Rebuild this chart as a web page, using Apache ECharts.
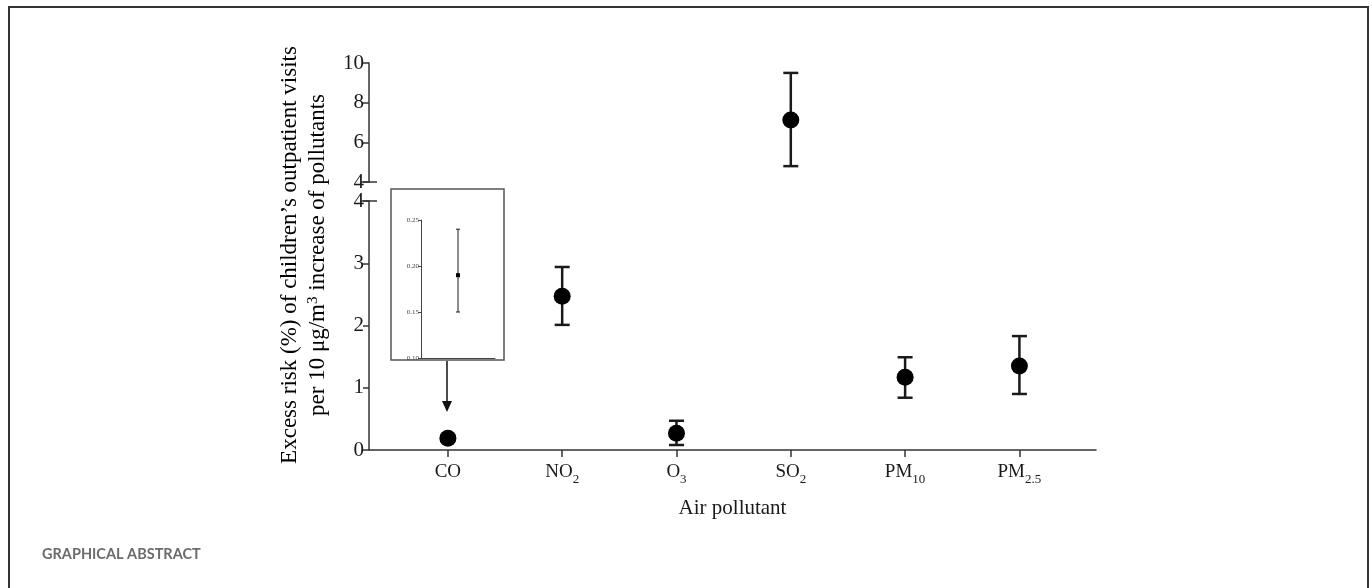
<!DOCTYPE html>
<html>
<head>
<meta charset="utf-8">
<script src="https://cdn.jsdelivr.net/npm/echarts@6/dist/echarts.min.js"></script>
<style>
  html, body { margin: 0; padding: 0; background: #fff; }
  #chart { width: 1372px; height: 588px; }
</style>
</head>
<body>
<div id="chart"></div>
<script>
// pollutant order along the x axis (value 1..6)
const pollutants = ['CO', 'NO2', 'O3', 'SO2', 'PM10', 'PM2.5']
const excessRisk = [0.19, 2.47, 0.27, 7.13, 1.17, 1.35]
const lowerCI = [0.15, 2.01, 0.08, 4.80, 0.84, 0.90]
const upperCI = [0.24, 2.94, 0.47, 9.50, 1.49, 1.83]

const lowerTicks = [0, 1, 2, 3, 4]
const upperTicks = [4, 6, 8, 10]
const insetTicks = [0.10, 0.15, 0.20, 0.25]
const breakAt = 4

const serif = '"Liberation Serif", "Times New Roman", serif'
const ink = '#1a1a1a'
const axisColor = '#333'

// split points into the upper (>= break) and lower panels
const positions = pollutants.map((p, i) => i + 1)
const pointsLow = positions.filter((x, i) => excessRisk[i] < breakAt).map((x) => [x, excessRisk[x - 1]])
const pointsHigh = positions.filter((x, i) => excessRisk[i] >= breakAt).map((x) => [x, excessRisk[x - 1]])
const barsLow = positions.filter((x, i) => excessRisk[i] < breakAt).map((x) => [x, lowerCI[x - 1], upperCI[x - 1]])
const barsHigh = positions.filter((x, i) => excessRisk[i] >= breakAt).map((x) => [x, lowerCI[x - 1], upperCI[x - 1]])

const xMin = 0.31
const xMax = 6.67

// "NO2" -> NO + subscript 2
const chemLabel = (name) => {
  const m = name.match(/^([A-Z]+)(.*)$/)
  return m[2] ? `{main|${m[1]}}{sub|${m[2]}}` : `{main|${m[1]}}`
}

const errorBar = (capW, lw) => (params, api) => {
  const x = api.value(0)
  const lo = api.coord([x, api.value(1)])
  const hi = api.coord([x, api.value(2)])
  const style = { stroke: ink, lineWidth: lw }
  return {
    type: 'group',
    children: [
      { type: 'line', shape: { x1: lo[0], y1: lo[1], x2: hi[0], y2: hi[1] }, style },
      { type: 'line', shape: { x1: hi[0] - capW / 2, y1: hi[1], x2: hi[0] + capW / 2, y2: hi[1] }, style },
      { type: 'line', shape: { x1: lo[0] - capW / 2, y1: lo[1], x2: lo[0] + capW / 2, y2: lo[1] }, style },
    ],
  }
}

// short cross mark where the y axis is broken
const breakMark = (params, api) => {
  const p = api.coord([api.value(0), api.value(1)])
  return {
    type: 'line',
    shape: { x1: p[0] - 8, y1: p[1], x2: p[0] + 8, y2: p[1] },
    style: { stroke: axisColor, lineWidth: 1.5 },
  }
}

const subRich = {
  main: { fontFamily: serif, fontSize: 19, color: ink, lineHeight: 20, verticalAlign: 'top' },
  sub: { fontFamily: serif, fontSize: 13, color: ink, lineHeight: 13, padding: [10, 0, 0, 0], verticalAlign: 'top' },
}

const chart = echarts.init(document.getElementById('chart'), null, { renderer: 'canvas' })

chart.setOption({
  backgroundColor: '#fff',
  animation: false,
  grid: [
    { left: 369, right: 276, top: 63, height: 119 },
    { left: 369, right: 276, top: 201, height: 249 },
    { left: 421, top: 220, width: 74, height: 138 },
  ],
  xAxis: [
    { gridIndex: 0, type: 'value', min: xMin, max: xMax, show: false },
    {
      gridIndex: 1, type: 'value', min: xMin, max: xMax,
      axisLine: { lineStyle: { color: axisColor, width: 1.5 } },
      axisTick: { show: true, customValues: positions, length: 7, lineStyle: { color: axisColor, width: 1.5 } },
      splitLine: { show: false },
      axisLabel: {
        customValues: positions,
        margin: 13,
        formatter: (v) => chemLabel(pollutants[Math.round(v) - 1]),
        rich: subRich,
      },
      name: 'Air pollutant',
      nameLocation: 'middle',
      nameGap: 48,
      nameMoveOverlap: false,
      nameTextStyle: { fontFamily: serif, fontSize: 21, color: ink },
    },
    {
      gridIndex: 2, type: 'value', min: 0, max: 2,
      axisLine: { lineStyle: { color: '#444', width: 1 } },
      axisTick: { show: false }, axisLabel: { show: false }, splitLine: { show: false },
    },
  ],
  yAxis: [
    {
      gridIndex: 0, type: 'value', min: 4, max: 10, interval: 2,
      axisLine: { show: true, lineStyle: { color: axisColor, width: 1.5 } },
      axisTick: { show: true, length: 6, lineStyle: { color: axisColor, width: 1.5 } },
      axisLabel: { fontFamily: serif, fontSize: 21, color: ink, margin: 5, customValues: upperTicks },
      splitLine: { show: false },
    },
    {
      gridIndex: 1, type: 'value', min: 0, max: 4, interval: 1,
      axisLine: { show: true, lineStyle: { color: axisColor, width: 1.5 } },
      axisTick: { show: true, length: 6, lineStyle: { color: axisColor, width: 1.5 } },
      axisLabel: { fontFamily: serif, fontSize: 21, color: ink, margin: 5, customValues: lowerTicks },
      splitLine: { show: false },
    },
    {
      gridIndex: 2, type: 'value', min: 0.10, max: 0.25, interval: 0.05,
      axisLine: { show: true, lineStyle: { color: '#444', width: 1 } },
      axisTick: { show: true, length: 3, lineStyle: { color: '#444', width: 1 } },
      axisLabel: {
        fontFamily: serif, fontSize: 7, color: '#444', margin: 2,
        customValues: insetTicks, formatter: (v) => v.toFixed(2),
      },
      splitLine: { show: false },
    },
  ],
  series: [
    { type: 'custom', xAxisIndex: 0, yAxisIndex: 0, renderItem: errorBar(15, 2.5), data: barsHigh, z: 3 },
    { type: 'scatter', xAxisIndex: 0, yAxisIndex: 0, symbolSize: 17, itemStyle: { color: '#000', opacity: 1 }, data: pointsHigh, z: 4 },
    { type: 'custom', xAxisIndex: 1, yAxisIndex: 1, renderItem: errorBar(15, 2.5), data: barsLow, z: 3 },
    { type: 'scatter', xAxisIndex: 1, yAxisIndex: 1, symbolSize: 17, itemStyle: { color: '#000', opacity: 1 }, data: pointsLow, z: 4 },
    { type: 'custom', xAxisIndex: 0, yAxisIndex: 0, renderItem: breakMark, data: [[xMin, breakAt]], silent: true },
    { type: 'custom', xAxisIndex: 1, yAxisIndex: 1, renderItem: breakMark, data: [[xMin, breakAt]], silent: true },
    // inset: zoom on the CO estimate
    { type: 'custom', xAxisIndex: 2, yAxisIndex: 2, renderItem: errorBar(4, 1), data: [[1, lowerCI[0], upperCI[0]]] },
    { type: 'scatter', xAxisIndex: 2, yAxisIndex: 2, symbol: 'rect', symbolSize: 4, itemStyle: { color: '#000', opacity: 1 }, data: [[1, excessRisk[0]]], z: 4 },
  ],
  graphic: [
    // page frame
    { type: 'rect', shape: { x: 9, y: 7, width: 1359, height: 640 }, style: { fill: 'none', stroke: '#333', lineWidth: 2 }, silent: true },
    // inset frame
    { type: 'rect', shape: { x: 391, y: 189, width: 113, height: 171 }, style: { fill: 'none', stroke: '#555', lineWidth: 1.5 }, silent: true },
    // arrow from inset to CO
    { type: 'line', shape: { x1: 447, y1: 361, x2: 447, y2: 404 }, style: { stroke: '#111', lineWidth: 1.5 }, silent: true },
    { type: 'polygon', shape: { points: [[442, 401], [452, 401], [447, 412]] }, style: { fill: '#111' }, silent: true },
    {
      type: 'text', x: 306, y: 255, rotation: Math.PI / 2, silent: true,
      style: {
        text: '{t|Excess risk (%) of children’s outpatient visits}\n{t|per 10 μg/m}{sup|3}{t| increase of pollutants}',
        align: 'center', verticalAlign: 'middle',
        rich: {
          t: { fontFamily: serif, fontSize: 23, color: ink, lineHeight: 28, verticalAlign: 'top' },
          sup: { fontFamily: serif, fontSize: 15, color: ink, lineHeight: 15, verticalAlign: 'top' },
        },
      },
    },
    {
      type: 'text', left: 42, top: 547, silent: true,
      style: { text: 'GRAPHICAL ABSTRACT', fontFamily: 'Lato, "Open Sans", sans-serif', fontWeight: 'bold', fontSize: 14.5, fill: '#6b6b6b' },
    },
  ],
})
</script>
</body>
</html>
